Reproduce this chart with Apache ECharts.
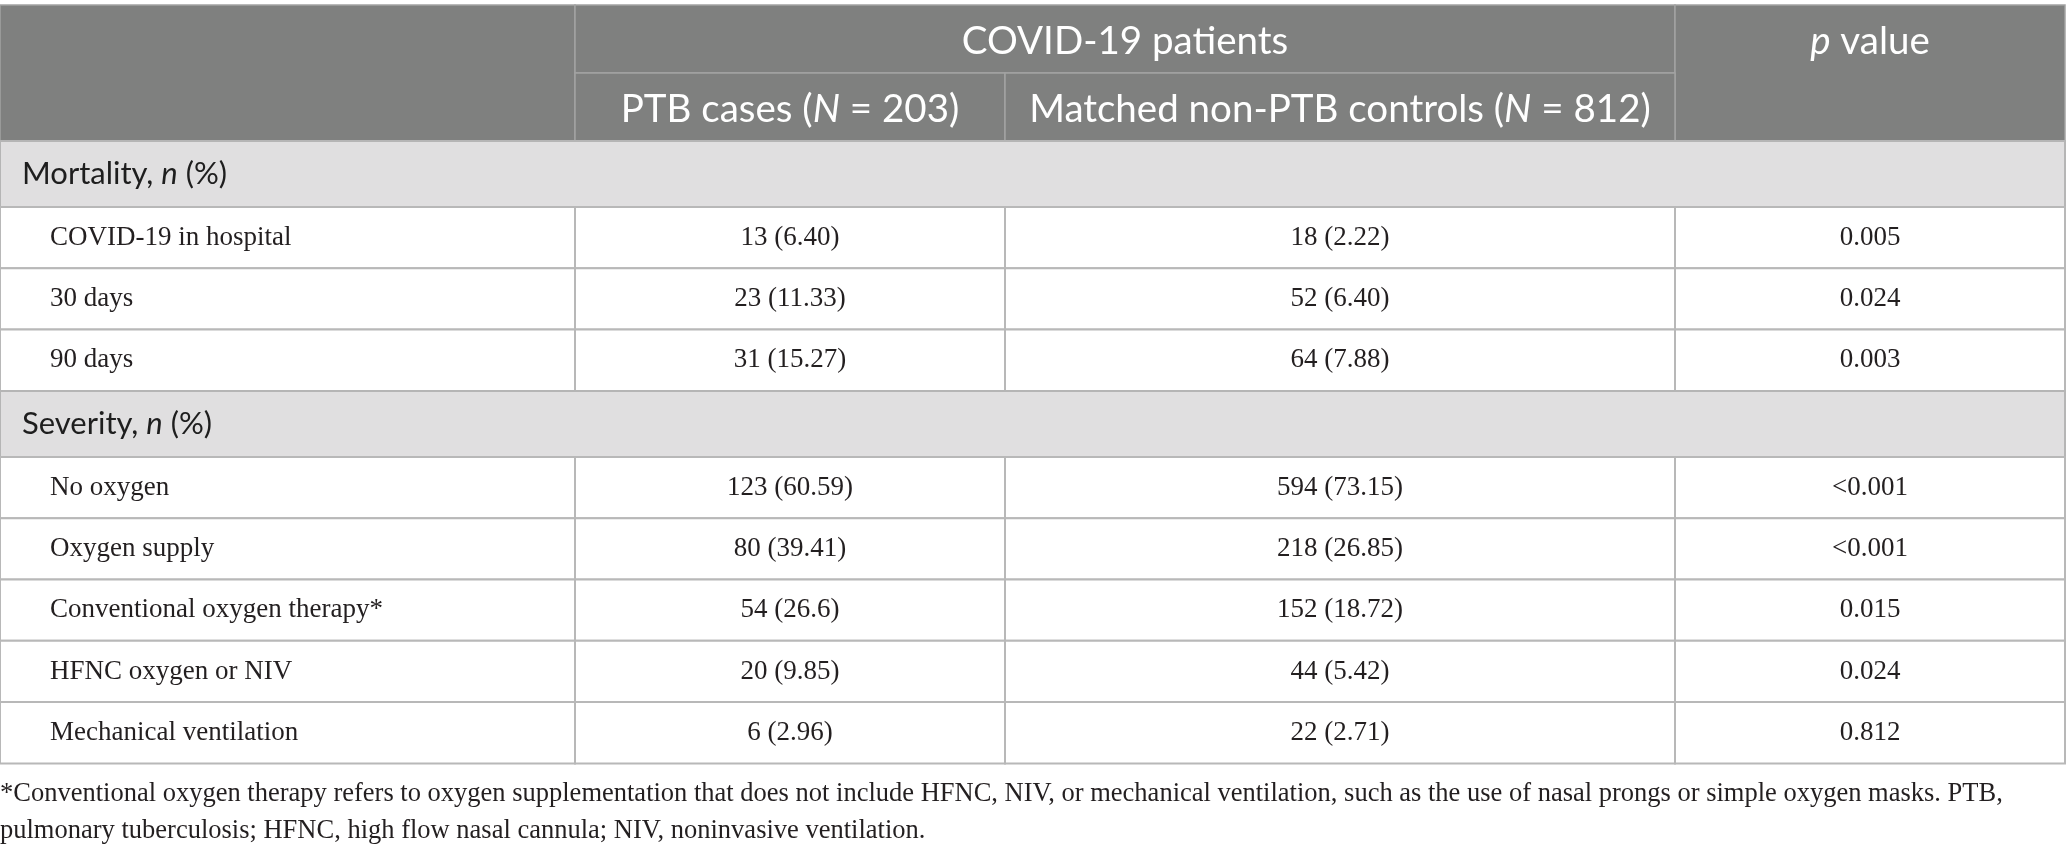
<!DOCTYPE html>
<html>
<head>
<meta charset="utf-8">
<script src="https://cdn.jsdelivr.net/npm/echarts@6/dist/echarts.min.js"></script>
<style>
  html, body { margin: 0; padding: 0; background: #fff; }
  #chart { width: 2067px; height: 853px; }
</style>
</head>
<body>
<div id="chart"></div>
<script>
// --- table content ---
const groupHeader = 'COVID-19 patients';
const pHeader = '{i|p} value';
const armHeaders = ['PTB cases ({i|N} = 203)', 'Matched non-PTB controls ({i|N} = 812)'];

const mortalityTitle = 'Mortality, {i|n} (%)';
const mortalityLabels = ['COVID-19 in hospital', '30 days', '90 days'];
const mortalityPtb = ['13 (6.40)', '23 (11.33)', '31 (15.27)'];
const mortalityCtrl = ['18 (2.22)', '52 (6.40)', '64 (7.88)'];
const mortalityP = ['0.005', '0.024', '0.003'];

const severityTitle = 'Severity, {i|n} (%)';
const severityLabels = ['No oxygen', 'Oxygen supply', 'Conventional oxygen therapy*', 'HFNC oxygen or NIV', 'Mechanical ventilation'];
const severityPtb = ['123 (60.59)', '80 (39.41)', '54 (26.6)', '20 (9.85)', '6 (2.96)'];
const severityCtrl = ['594 (73.15)', '218 (26.85)', '152 (18.72)', '44 (5.42)', '22 (2.71)'];
const severityP = ['<0.001', '<0.001', '0.015', '0.024', '0.812'];

const footnotes = [
  '*Conventional oxygen therapy refers to oxygen supplementation that does not include HFNC, NIV, or mechanical ventilation, such as the use of nasal prongs or simple oxygen masks. PTB,',
  'pulmonary tuberculosis; HFNC, high flow nasal cannula; NIV, noninvasive ventilation.'
];

// --- layout (axis units = design px) ---
const colEdges = [0, 575, 1005, 1675, 2065];
const tableTop = 5;
const headerRowH = 68, sectionRowH = 66, dataRowH = 61.3, noteRowH = 37, noteGap = 12;

const SANS = 'Lato, "Noto Sans", sans-serif';
const SERIF = '"Liberation Serif", "DejaVu Serif", serif';

const kindStyle = {
  head:    { fill: '#7f807f', stroke: '#a2a2a2', lineWidth: 1.5, color: '#ffffff', font: SANS, size: 38.5, align: 'center', dy: 2.5 },
  section: { fill: '#e0dfe0', stroke: '#b5b5b5', lineWidth: 2, color: '#1e1e1e', font: SANS, size: 31, align: 'left', pad: 22 },
  label:   { fill: '#ffffff', stroke: '#b8b8b8', lineWidth: 2, color: '#231f20', font: SERIF, size: 27, align: 'left', pad: 50 },
  value:   { fill: '#ffffff', stroke: '#b8b8b8', lineWidth: 2, color: '#231f20', font: SERIF, size: 27, align: 'center' },
  note:    { color: '#231f20', font: SERIF, size: 26.5, align: 'left', pad: 0 }
};

// --- build cell list ---
const cells = [];
let y = tableTop;
cells.push({ x0: colEdges[0], x1: colEdges[1], y0: y, y1: y + 2 * headerRowH, kind: 'head', text: '' });
cells.push({ x0: colEdges[1], x1: colEdges[3], y0: y, y1: y + headerRowH, kind: 'head', text: groupHeader });
cells.push({ x0: colEdges[3], x1: colEdges[4], y0: y, y1: y + 2 * headerRowH, kind: 'head', text: pHeader, ty0: y, ty1: y + headerRowH });
armHeaders.forEach((h, i) => {
  cells.push({ x0: colEdges[i + 1], x1: colEdges[i + 2], y0: y + headerRowH, y1: y + 2 * headerRowH, kind: 'head', text: h });
});
y += 2 * headerRowH;

function addSection(title, labels, ptb, ctrl, pv) {
  cells.push({ x0: colEdges[0], x1: colEdges[4], y0: y, y1: y + sectionRowH, kind: 'section', text: title });
  y += sectionRowH;
  labels.forEach((lab, i) => {
    const row = [lab, ptb[i], ctrl[i], pv[i]];
    row.forEach((t, c) => {
      cells.push({ x0: colEdges[c], x1: colEdges[c + 1], y0: y, y1: y + dataRowH, kind: c === 0 ? 'label' : 'value', text: t });
    });
    y += dataRowH;
  });
}
addSection(mortalityTitle, mortalityLabels, mortalityPtb, mortalityCtrl, mortalityP);
addSection(severityTitle, severityLabels, severityPtb, severityCtrl, severityP);

y += noteGap;
footnotes.forEach(t => {
  cells.push({ x0: colEdges[0], x1: colEdges[4], y0: y, y1: y + noteRowH, kind: 'note', text: t });
  y += noteRowH;
});

// --- render ---
function renderItem(params, api) {
  const c = cells[params.dataIndex];
  const st = kindStyle[c.kind];
  const p0 = api.coord([api.value(0), api.value(1)]);
  const p1 = api.coord([api.value(2), api.value(3)]);
  const children = [];
  if (st.fill) {
    children.push({
      type: 'rect',
      shape: { x: p0[0], y: p0[1], width: p1[0] - p0[0], height: p1[1] - p0[1] },
      style: { fill: st.fill, stroke: st.stroke, lineWidth: st.lineWidth }
    });
  }
  if (c.text) {
    const ty0 = c.ty0 != null ? api.coord([0, c.ty0])[1] : p0[1];
    const ty1 = c.ty1 != null ? api.coord([0, c.ty1])[1] : p1[1];
    const tx = st.align === 'left' ? p0[0] + st.pad : (p0[0] + p1[0]) / 2;
    children.push({
      type: 'text',
      style: {
        x: tx, y: (ty0 + ty1) / 2 + (st.dy || 0),
        text: c.text,
        fill: st.color,
        fontSize: st.size,
        fontFamily: st.font,
        align: st.align,
        verticalAlign: 'middle',
        rich: {
          i: { fontStyle: 'italic', fontSize: st.size, fontFamily: st.font, fill: st.color }
        }
      }
    });
  }
  return { type: 'group', children };
}

const chart = echarts.init(document.getElementById('chart'));
chart.setOption({
  animation: false,
  grid: { left: 0, right: 0, top: 0, bottom: 0 },
  xAxis: { type: 'value', min: 0, max: 2067, show: false },
  yAxis: { type: 'value', min: 0, max: 853, inverse: true, show: false },
  series: [{
    type: 'custom',
    renderItem: renderItem,
    clip: false,
    data: cells.map(c => [c.x0, c.y0, c.x1, c.y1])
  }]
});
window.addEventListener('resize', () => chart.resize());
</script>
</body>
</html>
